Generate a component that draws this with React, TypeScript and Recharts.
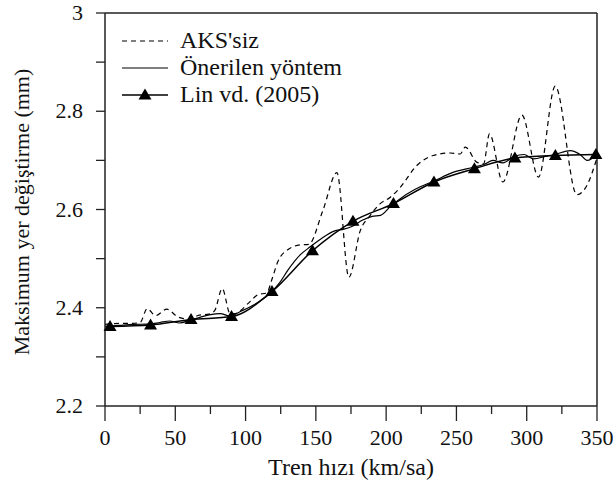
import { LineChart, Line, XAxis, YAxis, ReferenceLine, Legend } from "recharts";

const FONT = "Liberation Serif";

// Lin vd. (2005): speeds every 8 m/s, converted to km/sa
const linSpeed = [3.6, 32.4, 61.2, 90, 118.8, 147.6, 176.4, 205.2, 234, 262.8, 291.6, 320.4, 349.2];
const linDisp = [2.362, 2.365, 2.376, 2.382, 2.433, 2.516, 2.576, 2.612, 2.656, 2.683, 2.705, 2.71, 2.712];

// Önerilen yöntem
const onerSpeed = [0, 10, 20, 32, 39, 46, 53, 61, 68, 75, 82, 89, 96, 104, 110, 118, 124, 130, 139, 146, 155, 163, 170, 176, 183, 190, 196, 203, 210, 220, 234, 248, 262, 270, 276, 283, 291, 298, 305, 313, 320, 331, 338, 343, 350];
const onerDisp = [2.362, 2.364, 2.366, 2.367, 2.37, 2.373, 2.369, 2.375, 2.381, 2.386, 2.388, 2.383, 2.392, 2.403, 2.413, 2.431, 2.45, 2.476, 2.508, 2.524, 2.543, 2.556, 2.56, 2.566, 2.578, 2.586, 2.588, 2.606, 2.622, 2.64, 2.658, 2.676, 2.686, 2.692, 2.7, 2.695, 2.708, 2.712, 2.703, 2.708, 2.712, 2.72, 2.712, 2.7, 2.712];

// AKS'siz
const aksSpeed = [0, 10, 18, 25, 30, 36, 44, 52, 60, 67, 74, 78, 83.4, 89, 92, 103, 109, 115, 119, 123, 131, 139, 145, 155, 165, 173.5, 181.6, 188.7, 195.8, 203, 210, 222, 233.5, 245.6, 252.7, 256.3, 264.6, 269.3, 273.5, 283, 296.6, 308.4, 320.3, 335.7, 342.8, 350];
const aksDisp = [2.366, 2.368, 2.368, 2.37, 2.398, 2.384, 2.397, 2.381, 2.377, 2.385, 2.387, 2.394, 2.439, 2.388, 2.388, 2.412, 2.427, 2.43, 2.46, 2.494, 2.52, 2.528, 2.529, 2.598, 2.675, 2.462, 2.557, 2.588, 2.612, 2.625, 2.645, 2.69, 2.71, 2.715, 2.713, 2.727, 2.696, 2.693, 2.754, 2.656, 2.792, 2.666, 2.851, 2.63, 2.649, 2.705];

const xTicks = [0, 25, 50, 75, 100, 125, 150, 175, 200, 225, 250, 275, 300, 325, 350];
const yTicks = [2.2, 2.3, 2.4, 2.5, 2.6, 2.7, 2.8, 2.9, 3.0];

const linData = linSpeed.map((x, i) => ({ x, y: linDisp[i] }));
const onerData = onerSpeed.map((x, i) => ({ x, y: onerDisp[i] }));
const aksData = aksSpeed.map((x, i) => ({ x, y: aksDisp[i] }));

const AXIS = "#222";

function XTick({ x, y, payload }: any) {
  const major = payload.value % 50 === 0;
  return (
    <g>
      <line x1={x} y1={y} x2={x} y2={y + (major ? 15 : 8)} stroke={AXIS} strokeWidth={1.3} />
      {major && (
        <text x={x} y={y + 39} textAnchor="middle" style={{ fontFamily: FONT, fontSize: 22 }} fill="#111">
          {payload.value}
        </text>
      )}
    </g>
  );
}

function YTick({ x, y, payload }: any) {
  const v = payload.value;
  const major = Math.round(v * 10) % 2 === 0;
  return (
    <g>
      <line x1={x - 9} y1={y} x2={x} y2={y} stroke={AXIS} strokeWidth={1.3} />
      {major && (
        <text x={x - 22} y={y + 7} textAnchor="end" style={{ fontFamily: FONT, fontSize: 22 }} fill="#111">
          {v === 3 ? "3" : v.toFixed(1)}
        </text>
      )}
    </g>
  );
}

function Triangle({ cx, cy, index }: any) {
  return <polygon key={`t${index}`} points={`${cx},${cy - 6.5} ${cx - 6.5},${cy + 4.5} ${cx + 6.5},${cy + 4.5}`} fill="#000" />;
}

function LegendBox() {
  const row = { display: "flex", alignItems: "center", height: 27 };
  const txt = { fontFamily: FONT, fontSize: 24, color: "#111", marginLeft: 12, lineHeight: "27px" };
  return (
    <div>
      <div style={row}>
        <svg width={46} height={10}><line x1={0} y1={5} x2={46} y2={5} stroke="#000" strokeWidth={1.2} strokeDasharray="5 4" /></svg>
        <span style={txt}>AKS'siz</span>
      </div>
      <div style={row}>
        <svg width={46} height={10}><line x1={0} y1={5} x2={46} y2={5} stroke="#000" strokeWidth={1.2} /></svg>
        <span style={txt}>Önerilen yöntem</span>
      </div>
      <div style={row}>
        <svg width={46} height={14}>
          <line x1={0} y1={7} x2={46} y2={7} stroke="#000" strokeWidth={1.5} />
          <polygon points="23,0.5 16.5,11.5 29.5,11.5" fill="#000" />
        </svg>
        <span style={txt}>Lin vd. (2005)</span>
      </div>
    </div>
  );
}

export default function App() {
  return (
    <div style={{ position: "absolute", left: 0, top: 0, background: "#fff", fontFamily: FONT }}>
      <LineChart width={616} height={494} margin={{ top: 13, right: 19, left: 0, bottom: 0 }} style={{ fontFamily: FONT }}>
        <XAxis
          type="number"
          dataKey="x"
          domain={[0, 350]}
          ticks={xTicks}
          interval={0}
          tick={<XTick />}
          tickLine={false}
          tickSize={0}
          tickMargin={0}
          height={88}
          axisLine={{ stroke: AXIS, strokeWidth: 1.5 }}
          allowDuplicatedCategory={false}
          label={{
            content: () => (
              <text x={351} y={475} textAnchor="middle" style={{ fontFamily: FONT, fontSize: 24 }} fill="#111">
                Tren hızı (km/sa)
              </text>
            ),
          }}
        />
        <YAxis
          type="number"
          dataKey="y"
          domain={[2.2, 3]}
          ticks={yTicks}
          interval={0}
          tick={<YTick />}
          tickLine={false}
          tickSize={0}
          tickMargin={0}
          width={105}
          axisLine={{ stroke: AXIS, strokeWidth: 1.5 }}
          label={{
            content: () => (
              <text x={29} y={212} transform="rotate(-90 29 212)" textAnchor="middle" style={{ fontFamily: FONT, fontSize: 22 }} fill="#111">
                Maksimum yer değiştirme (mm)
              </text>
            ),
          }}
        />
        <ReferenceLine y={3} stroke={AXIS} strokeWidth={1.5} />
        <ReferenceLine x={350} stroke={AXIS} strokeWidth={1.5} />
        <Line data={aksData} dataKey="y" type="monotone" stroke="#000" strokeWidth={1.2} strokeDasharray="5 4" dot={false} isAnimationActive={false} />
        <Line data={onerData} dataKey="y" type="monotone" stroke="#000" strokeWidth={1.2} dot={false} isAnimationActive={false} />
        <Line data={linData} dataKey="y" type="monotone" stroke="#000" strokeWidth={1.5} dot={<Triangle />} isAnimationActive={false} />
        <Legend
          layout="vertical"
          align="center"
          verticalAlign="middle"
          content={<LegendBox />}
          wrapperStyle={{ left: 122, top: 27, width: 260 }}
        />
      </LineChart>
    </div>
  );
}
